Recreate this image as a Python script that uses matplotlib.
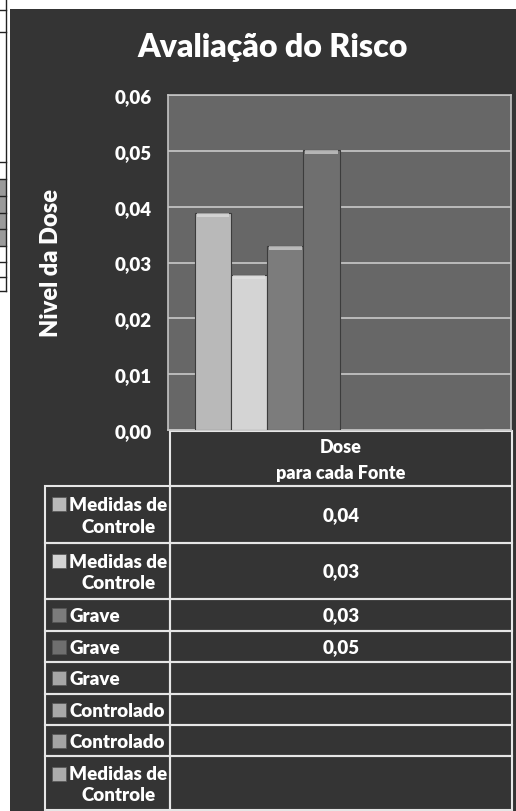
import matplotlib.pyplot as plt
import numpy as np
from matplotlib.patches import Rectangle

plt.rcParams["font.family"] = ["Lato", "DejaVu Sans"]

# data
title = "Avaliação do Risco"
y_label = "Nivel da Dose"
category_label = "Dose\npara cada Fonte"
series_labels = [
    "Medidas de\nControle",
    "Medidas de\nControle",
    "Grave",
    "Grave",
    "Grave",
    "Controlado",
    "Controlado",
    "Medidas de\nControle",
]
dose_values = [0.0388, 0.0278, 0.0329, 0.0501, np.nan, np.nan, np.nan, np.nan]
y_ticks = [0.00, 0.01, 0.02, 0.03, 0.04, 0.05, 0.06]
series_colors = ["#b9b9b9", "#d4d4d4", "#7c7c7c", "#6f6f6f",
                 "#a6a6a6", "#a9a9a9", "#a4a4a4", "#acacac"]

W, H = 516, 812
BG = "#343434"
PLOT_BG = "#676767"
LINE = "#e6e6e6"
WEIGHT = "heavy"


def fmt(v):
    return f"{v:.2f}".replace(".", ",")


fig = plt.figure(figsize=(W / 100, H / 100), dpi=100, facecolor="white")

# full-figure overlay in pixel coordinates
ov = fig.add_axes([0, 0, 1, 1], zorder=0)
ov.set_xlim(0, W)
ov.set_ylim(H, 0)
ov.axis("off")

# bits of the neighbouring table on the left edge
ov.add_patch(Rectangle((0, 180), 6, 67, facecolor="#9a9a9a", edgecolor="none"))
ov.plot([6, 6], [0, 292], color="#222222", lw=1)
for yy in [11, 33, 163, 180, 197, 214, 230, 247, 263, 278, 292]:
    ov.plot([0, 6], [yy, yy], color="#222222", lw=1)

# dark chart background
ov.add_patch(Rectangle((10, 10), W - 10, H - 10, facecolor=BG, edgecolor="none"))

ov.text(273, 48, title, color="white", fontsize=23, fontweight=WEIGHT,
        ha="center", va="center")
ov.text(51, 263, y_label, color="white", fontsize=17, fontweight=WEIGHT,
        ha="center", va="center", rotation=90)

# plot area
px_l, px_r, px_t, px_b = 168, 511, 96, 431
ax = fig.add_axes([px_l / W, 1 - px_b / H, (px_r - px_l) / W, (px_b - px_t) / H],
                  zorder=2)
ax.set_facecolor(PLOT_BG)
ax.set_xlim(0, 1)
ax.set_ylim(0, 0.06)
ax.set_yticks(y_ticks)
ax.set_yticklabels([fmt(t) for t in y_ticks], color="white", fontsize=13.5,
                   fontweight=WEIGHT)
ax.tick_params(axis="y", length=0, pad=12)
ax.set_xticks([])
ax.grid(axis="y", color="#c9c9c9", lw=1.2)
ax.set_axisbelow(True)
for s in ax.spines.values():
    s.set_color("#c4c4c4")
    s.set_linewidth(1.2)

n = len(dose_values)
bar_w = 0.1055
xs = 0.5 + (np.arange(n) - (n - 1) / 2) * bar_w
vals = np.nan_to_num(np.array(dose_values))
ax.bar(xs, vals, width=bar_w, color=series_colors, edgecolor="#3c3c3c",
       linewidth=0.8, zorder=3)
# light bevel on bar tops
cap = 0.0007
ax.bar(xs[vals > 0], cap, bottom=vals[vals > 0] - cap, width=bar_w * 0.9,
       color="#e4e4e4", alpha=0.6, linewidth=0, zorder=4)

# data table
col_l, col_m, col_r = 45, 170, 512
head_t, head_b = 432, 487
row_edges = [487, 544, 600, 632, 663, 695, 726, 757, 811]

ov.add_patch(Rectangle((col_m, head_t), col_r - col_m, head_b - head_t,
                       facecolor="none", edgecolor=LINE, lw=1.5))
ov.text((col_m + col_r) / 2, (head_t + head_b) / 2 + 1, category_label,
        color="white", fontsize=13, fontweight=WEIGHT, ha="center",
        va="center", linespacing=1.6)

for i, (lab, v, c) in enumerate(zip(series_labels, dose_values, series_colors)):
    top, bot = row_edges[i], row_edges[i + 1]
    ov.add_patch(Rectangle((col_l, top), col_m - col_l, bot - top,
                           facecolor="none", edgecolor=LINE, lw=1.5))
    ov.add_patch(Rectangle((col_m, top), col_r - col_m, bot - top,
                           facecolor="none", edgecolor=LINE, lw=1.5))
    two_lines = "\n" in lab
    first_y = top + 18 if two_lines else (top + bot) / 2
    ov.add_patch(Rectangle((52, first_y - 7), 14, 14, facecolor=c,
                           edgecolor="#555555", lw=0.5))
    ov.text(69, (top + bot) / 2 + 1, lab, color="white",
            fontsize=13.5, fontweight=WEIGHT, ha="left",
            va="center", multialignment="center",
            linespacing=1.35)
    if not np.isnan(v):
        ov.text((col_m + col_r) / 2, (top + bot) / 2, fmt(v), color="white",
                fontsize=13.5, fontweight=WEIGHT, ha="center", va="center")

fig.savefig("out.png", dpi=100, facecolor="white")
